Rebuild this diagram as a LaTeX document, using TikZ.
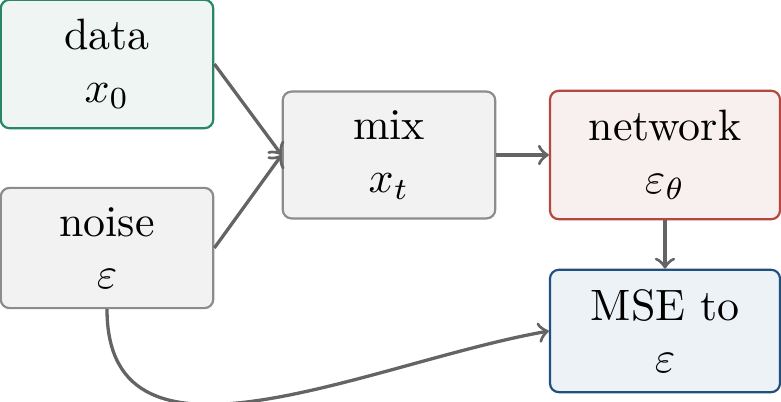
\documentclass[tikz,border=0pt]{standalone}
\usepackage{xcolor}
\usepackage{amsmath}
\usepackage{amssymb}

\definecolor{datadraw}{RGB}{40,135,100}
\definecolor{datafill}{RGB}{238,245,242}
\definecolor{greydraw}{RGB}{140,140,140}
\definecolor{greyfill}{RGB}{242,242,242}
\definecolor{netdraw}{RGB}{180,72,62}
\definecolor{netfill}{RGB}{248,240,238}
\definecolor{msedraw}{RGB}{32,80,130}
\definecolor{msefill}{RGB}{237,242,246}
\definecolor{arrowgrey}{RGB}{100,100,100}

\begin{document}
\begin{tikzpicture}[
  box/.style={draw, rounded corners=2pt, line width=0.5pt, align=center,
    inner sep=4.4pt, minimum width=1.7cm},
  wide/.style={box, minimum width=1.84cm},
  conn/.style={->, draw=arrowgrey, line width=0.75pt}]
  \useasboundingbox (0,0) rectangle (6.248,-3.216);

  \node[box, draw=datadraw, fill=datafill] (data) at (0.856,-0.512) {data\\$x_0$};
  \node[box, draw=greydraw, fill=greyfill] (noise) at (0.856,-1.984) {noise\\$\varepsilon$};
  \node[box, draw=greydraw, fill=greyfill] (mix) at (3.112,-1.24) {mix\\$x_t$};
  \node[wide, draw=netdraw, fill=netfill] (net) at (5.32,-1.24) {network\\$\varepsilon_\theta$};
  \node[wide, draw=msedraw, fill=msefill] (mse) at (5.32,-2.648) {MSE to\\$\varepsilon$};

  \draw[conn] (data.east) -- (mix.west);
  \draw[conn] (noise.east) -- (mix.west);
  \draw[conn] (mix) -- (net);
  \draw[conn] (net) -- (mse);
  \draw[conn] (noise.south) to[out=-90, in=190, looseness=1.05] (mse.west);
\end{tikzpicture}
\end{document}
